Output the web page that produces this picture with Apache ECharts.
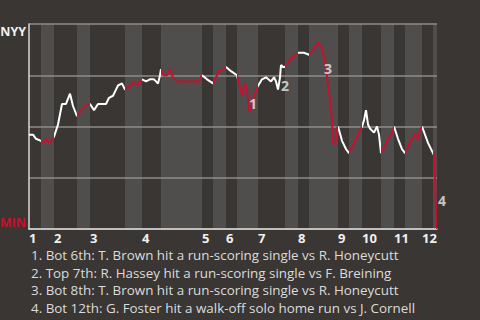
<!DOCTYPE html>
<html><head><meta charset="utf-8">
<script src="https://cdn.jsdelivr.net/npm/echarts@6/dist/echarts.min.js"></script>
<style>html,body{margin:0;padding:0;background:#393633;}#c{width:480px;height:320px;}</style>
</head><body><div id="c"></div>
<script>
// Elapsed game time (minutes) of each win-probability reading
const gameTime = [0,2,3.5,6,7,8.5,10,11,12.5,13.5,14.5,16.5,18.5,20.5,22,24,26,28,30.5,32.5,34.5,38.5,40,42,43.5,44.5,46.5,48,49.5,51,52.5,54,56.5,58.5,60.5,62.5,63.5,64.5,65.5,66,67.5,69,70.5,72,74.5,85,86.5,89,92,93.5,95,97.5,98.5,101,104,105,106.5,108,109,110,111,112,114,116.5,118.5,121,122.5,123.5,124.5,125.5,126,127,128,130,132,134.5,137.5,140,142.5,144.5,146.5,148,149.5,150.5,151.5,152,153,153.5,154,154.5,156.5,158.5,160,161.5,163.5,165.5,166.5,167.5,168.5,169.5,170.5,172.5,174,175,176,177.5,179.5,181.5,182.5,184.5,186.5,188,189.5,191.5,193,194.5,195.5,196.5,199.5,202,202.5,203,203.5,204];
// NYY win probability (%)
const winProbNYY = [46,46,44,43,42,44,42,43,45,48,51,61,61,66,60,55,58,60,61,58,61,61,64,65,68,70,71,68,69,70,72,70,73,72,73,73,72,71,75,78,75,75,78,74,72,72,75,73,71,74,77,78,79,77,75,71,65,71,68,58,58,63,69,73,74,72,74,72,68,74,80,79,79,82,84,86,86,85,88,91,88,82,70,63,53,42,41,43,49,50,43,39,37,40,44,48,50,53,58,51,49,47,50,46,37,40,44,47,50,44,39,37,40,44,46,44,48,50,42,37,36,24,9,0];
// Start time of each half inning (top 1, bot 1, top 2, ...)
const halfInningStart = [0,6,12.5,24,30.5,48,56.5,66,86.5,92,98.5,104,114.5,128,134.5,140,154.5,160,166.5,176,182.5,188,196.5,202];
const gameEnd = 204;
const inningLabels = ['1','2','3','4','5','6','7','8','9','10','11','12'];
const topTeam = 'NYY';
const bottomTeam = 'MIN';
const eventPointIndex = [60,68,81,123];
const eventLabels = ['1','2','3','4'];
const eventNotes = [
  '1. Bot 6th: T. Brown hit a run-scoring single vs R. Honeycutt',
  '2. Top 7th: R. Hassey hit a run-scoring single vs F. Breining',
  '3. Bot 8th: T. Brown hit a run-scoring single vs R. Honeycutt',
  '4. Bot 12th: G. Foster hit a walk-off solo home run vs J. Cornell'
];

const BG = '#393633', BAND = '#504e4c', RED = '#c8102e', WHITE = '#ffffff';
const FONT = '"Open Sans", sans-serif';

const halfEnds = halfInningStart.slice(1).concat([gameEnd]);
const pieces = halfInningStart.map((s, i) => ({ gte: s, lt: halfEnds[i] + (i === halfInningStart.length - 1 ? 0.001 : 0), color: i % 2 ? RED : WHITE }));
const bands = [];
halfInningStart.forEach((s, i) => { if (i % 2) bands.push([{ xAxis: s }, { xAxis: halfEnds[i] }]); });
const inningStarts = halfInningStart.filter((s, i) => i % 2 === 0);
const points = gameTime.map((t, i) => [t, winProbNYY[i]]);
const eventOffsets = [[2, -7], [7, -4], [3, 8], [5, -29]];

const chart = echarts.init(document.getElementById('c'), null, { renderer: 'svg' });
chart.setOption({
  backgroundColor: BG,
  animation: false,
  grid: { left: 29, right: 43, top: 24, bottom: 91, outerBoundsMode: 'none' },
  xAxis: {
    type: 'value', min: 0, max: gameEnd, z: 1.5,
    axisLine: { show: true, lineStyle: { color: '#d8d8d8', width: 1.5 } },
    axisTick: { show: false },
    splitLine: { show: false },
    axisLabel: {
      customValues: inningStarts,
      formatter: v => inningLabels[inningStarts.indexOf(v)] || '',
      align: 'left', margin: 2, color: '#f0f0f0', fontWeight: 'bold', fontSize: 13, fontFamily: FONT
    }
  },
  yAxis: {
    type: 'value', min: 0, max: 100, interval: 25, z: 1.5,
    axisLine: { show: true, lineStyle: { color: '#d8d8d8', width: 1.5 } },
    axisTick: { show: false },
    splitLine: { show: true, lineStyle: { color: '#8e8c89', width: 1.5 } },
    axisLabel: {
      customValues: [0, 100],
      formatter: v => v === 100 ? '{n|' + topTeam + '}' : '{m|' + bottomTeam + '}',
      margin: 3,
      rich: {
        n: { color: '#f0f0f0', fontWeight: 'bold', fontSize: 12.5, fontFamily: FONT, lineHeight: 13, padding: [14, 0, 0, 0] },
        m: { color: RED, fontWeight: 'bold', fontSize: 12.5, fontFamily: FONT, lineHeight: 13, padding: [0, 0, 14, 0] }
      }
    }
  },
  visualMap: { show: false, type: 'piecewise', dimension: 0, seriesIndex: 0, pieces: pieces },
  series: [
    {
      type: 'line', data: points, showSymbol: false, z: 2,
      lineStyle: { width: 2 },
      markArea: { silent: true, itemStyle: { color: BAND }, data: bands }
    },
    {
      type: 'scatter', z: 3, symbolSize: 1, itemStyle: { color: 'rgba(0,0,0,0)' },
      data: eventPointIndex.map((idx, k) => ({
        value: points[idx],
        label: { show: true, formatter: eventLabels[k], position: 'inside', offset: eventOffsets[k],
                 color: '#ececec', fontWeight: 'bold', fontSize: 14, fontFamily: FONT }
      }))
    }
  ],
  graphic: eventNotes.map((t, i) => ({
    type: 'text', x: 31, y: 255 + 17.5 * i,
    style: { text: t, fill: '#dcdcdc', font: '13.4px ' + FONT, verticalAlign: 'middle' }
  }))
});
</script></body></html>
